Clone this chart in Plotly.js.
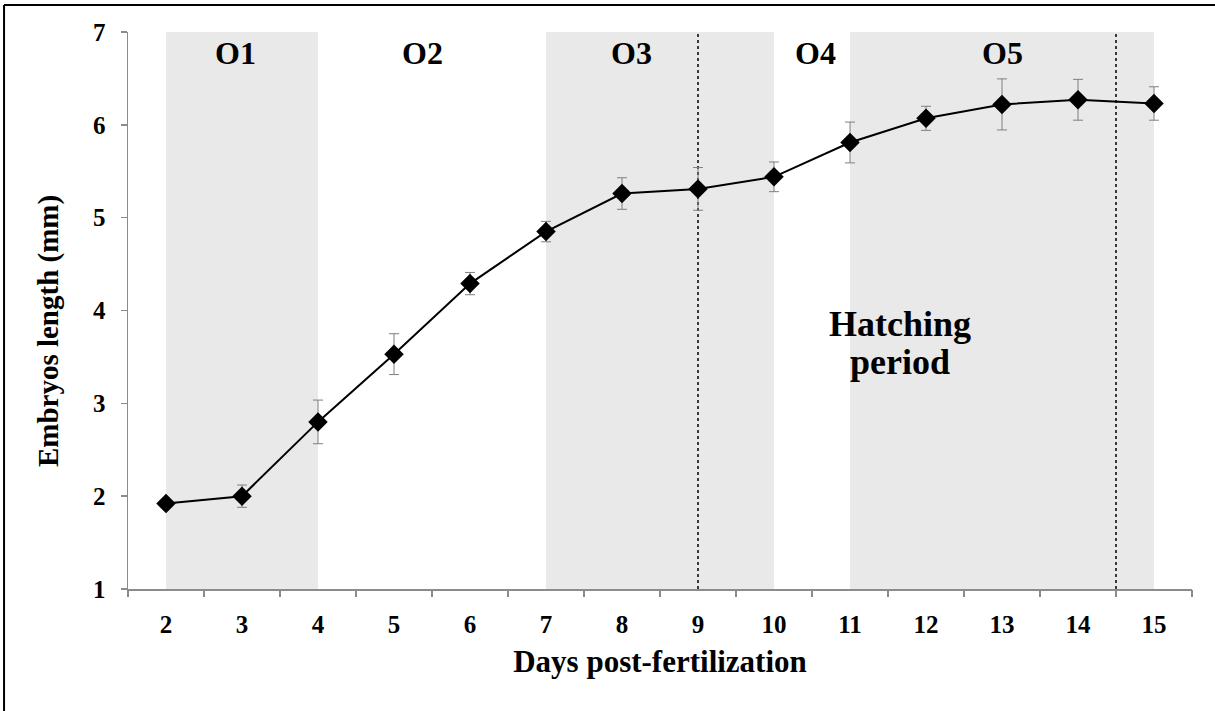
<!DOCTYPE html>
<html>
<head>
<meta charset="utf-8">
<script src="https://cdn.plot.ly/plotly-3.0.1.min.js"></script>
<style>html,body{margin:0;padding:0;background:#fff;}#chart{width:1215px;height:711px;}</style>
</head>
<body>
<div id="chart"></div>
<script>
// Data
const days = [2, 3, 4, 5, 6, 7, 8, 9, 10, 11, 12, 13, 14, 15];
const lengthMm = [1.92, 2.00, 2.80, 3.53, 4.29, 4.85, 5.26, 5.31, 5.44, 5.81, 6.07, 6.22, 6.27, 6.23];
const lengthErr = [0.04, 0.12, 0.235, 0.22, 0.12, 0.11, 0.17, 0.23, 0.16, 0.22, 0.13, 0.275, 0.22, 0.18];
const phaseLabels = ['O1', 'O2', 'O3', 'O4', 'O5'];
const phaseLabelX = [2.91, 5.37, 8.13, 10.55, 13.0];
const shadedFrom = [2, 7, 11];
const shadedTo = [4, 10, 15];
const dottedLinesX = [9, 14.5];
const hatchingLines = ['Hatching', 'period'];
const hatchingX = 11.66;
const hatchingY = [3.86, 3.44];

const FONT = 'Liberation Serif, Times New Roman, serif';
const AXIS_GRAY = '#8c8c8c';

const shapes = [];
shadedFrom.forEach((x0, i) => {
  shapes.push({type: 'rect', xref: 'x', yref: 'y', x0: x0, x1: shadedTo[i], y0: 1, y1: 7,
    fillcolor: '#e9e9e9', line: {width: 0}, layer: 'below'});
});
dottedLinesX.forEach(x => {
  shapes.push({type: 'line', xref: 'x', yref: 'y', x0: x, x1: x, y0: 1, y1: 7,
    line: {color: '#000', width: 1.5, dash: 'dot'}, layer: 'below'});
});
// outer frame (left and top edges)
shapes.push({type: 'line', xref: 'paper', yref: 'paper', x0: -0.1165, x1: -0.1165, y0: -0.23, y1: 1.0485,
  line: {color: '#000', width: 2}});
shapes.push({type: 'line', xref: 'paper', yref: 'paper', x0: -0.1165, x1: 1.03, y0: 1.0485, y1: 1.0485,
  line: {color: '#000', width: 2}});

const annotations = phaseLabels.map((t, i) => ({
  x: phaseLabelX[i], y: 6.77, xref: 'x', yref: 'y', text: t, showarrow: false,
  font: {family: FONT, size: 32, color: '#000', weight: 'bold'}
}));
hatchingLines.forEach((t, i) => {
  annotations.push({x: hatchingX, y: hatchingY[i], xref: 'x', yref: 'y', text: t, showarrow: false,
    font: {family: FONT, size: 36, color: '#000', weight: 'bold'}});
});
// y axis title placed as rotated annotation
annotations.push({x: -0.0752, y: 0.463, xref: 'paper', yref: 'paper', text: 'Embryos length (mm)',
  textangle: -90, showarrow: false, xanchor: 'center', yanchor: 'middle',
  font: {family: FONT, size: 29, color: '#000', weight: 'bold'}});

const trace = {
  x: days, y: lengthMm, type: 'scatter', mode: 'lines+markers',
  line: {color: '#000', width: 2},
  marker: {symbol: 'diamond', size: 15, color: '#000'},
  error_y: {type: 'data', array: lengthErr, visible: true, color: '#7f7f7f', thickness: 1, width: 5},
  showlegend: false, hoverinfo: 'x+y'
};
// invisible trace to attach boundary ticks axis
const tickTrace = {x: [days[0]], y: [lengthMm[0]], xaxis: 'x2', yaxis: 'y', mode: 'markers',
  marker: {opacity: 0}, showlegend: false, hoverinfo: 'skip'};

const boundaries = [];
for (let i = 0; i <= days.length; i++) boundaries.push(days[0] - 0.5 + i);

const layout = {
  width: 1215, height: 711,
  margin: {l: 128, r: 23, t: 32, b: 122},
  paper_bgcolor: '#fff', plot_bgcolor: '#fff',
  font: {family: FONT, color: '#000'},
  xaxis: {
    range: [days[0] - 0.5, days[days.length - 1] + 0.5],
    tickmode: 'array', tickvals: days, ticktext: days.map(String),
    ticks: 'outside', ticklen: 12, tickcolor: 'rgba(0,0,0,0)',
    tickfont: {family: FONT, size: 25, color: '#000', weight: 'bold'},
    showline: true, linecolor: AXIS_GRAY, linewidth: 1.5, showgrid: false, zeroline: false,
    title: {text: 'Days post-fertilization', font: {family: FONT, size: 31, color: '#000', weight: 'bold'}, standoff: 14}
  },
  xaxis2: {
    overlaying: 'x', anchor: 'y', side: 'bottom',
    range: [days[0] - 0.5, days[days.length - 1] + 0.5],
    tickmode: 'array', tickvals: boundaries, showticklabels: false,
    ticks: 'outside', ticklen: 7, tickcolor: AXIS_GRAY, tickwidth: 1.5,
    showline: false, showgrid: false, zeroline: false
  },
  yaxis: {
    range: [1, 7], dtick: 1, tick0: 1,
    ticks: 'outside', ticklen: 6, tickcolor: AXIS_GRAY, tickwidth: 1.5,
    ticklabelstandoff: 10,
    tickfont: {family: FONT, size: 25, color: '#000', weight: 'bold'},
    showline: true, linecolor: AXIS_GRAY, linewidth: 1.5, showgrid: false, zeroline: false
  },
  shapes: shapes,
  annotations: annotations
};

Plotly.newPlot('chart', [trace, tickTrace], layout, {displayModeBar: false, staticPlot: true});
</script>
</body>
</html>
